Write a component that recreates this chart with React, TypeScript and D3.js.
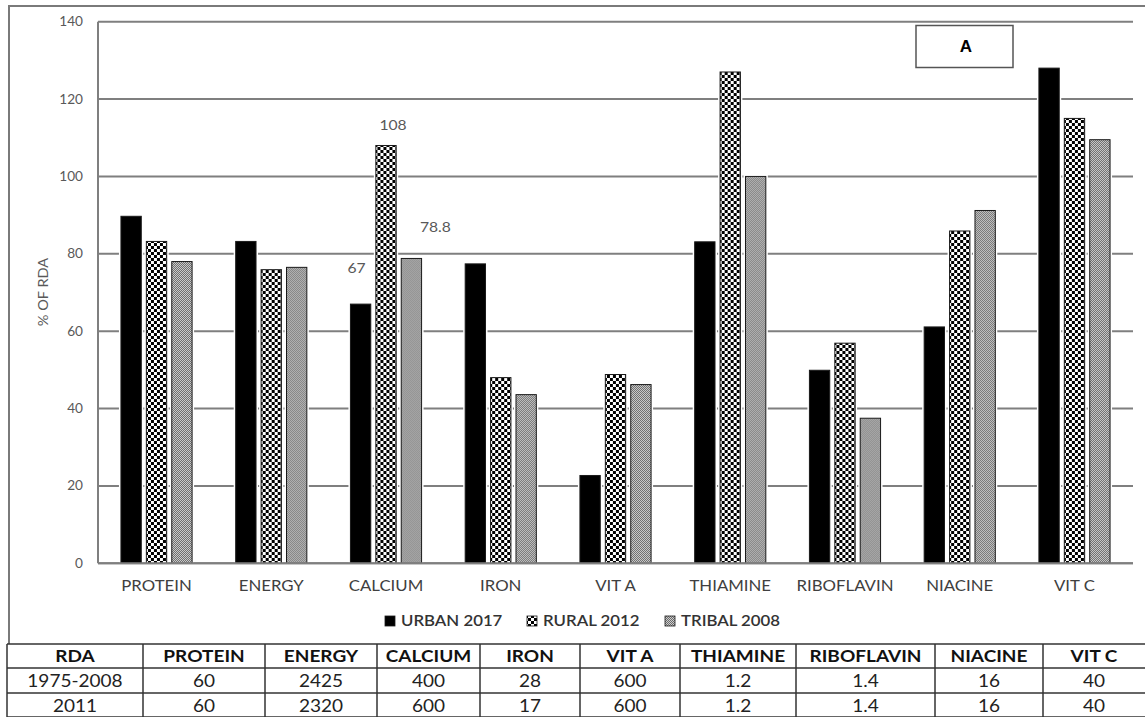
import React from 'react';
import * as d3 from 'd3';

// ---------- data ----------
const categories = ['PROTEIN', 'ENERGY', 'CALCIUM', 'IRON', 'VIT A', 'THIAMINE', 'RIBOFLAVIN', 'NIACINE', 'VIT C'];
const seriesNames = ['URBAN 2017', 'RURAL 2012', 'TRIBAL 2008'];
const urban2017 = [89.7, 83.2, 67, 77.4, 22.7, 83.1, 49.9, 61.1, 128];
const rural2012 = [83.2, 75.9, 108, 48, 48.8, 127, 56.9, 85.9, 115];
const tribal2008 = [78, 76.5, 78.8, 43.6, 46.2, 100, 37.5, 91.2, 109.5];
const yTicks = [0, 20, 40, 60, 80, 100, 120, 140];
const yTitle = '% OF RDA';
const panelLabel = 'A';
const labelCategory = 'CALCIUM';
const labelTexts = ['67', '108', '78.8'];
const tableHeader = ['RDA', ...categories];
const rdaRowLabels = ['1975-2008', '2011'];
const rda1975to2008 = ['60', '2425', '400', '28', '600', '1.2', '1.4', '16', '40'];
const rda2011 = ['60', '2320', '600', '17', '600', '1.2', '1.4', '16', '40'];

// ---------- layout ----------
const W = 1145;
const H = 717;
const SX = 1.12; // horizontal text stretch of the reference
const FONT = 'Lato, "Open Sans", sans-serif';
const plot = { left: 98, right: 1133, top: 21.7, bottom: 563.3 };
const labelOffsets = [
  { dx: -4, dy: -31 },
  { dx: 7, dy: -15.5 },
  { dx: 24, dy: -26 },
];
const legendX = [385, 527, 665];
const legendY = 616;
const tableCols = [7, 143, 265, 377, 480, 580, 680, 796, 935, 1043, 1145];
const tableRows = [644, 668, 693, 717];

const seriesValues = [urban2017, rural2012, tribal2008];
const seriesFills = ['#000', 'url(#checker)', 'url(#fineGrey)'];

function T(props: {
  x: number; y: number; anchor?: string; size: number; weight?: string | number;
  fill?: string; family?: string; rotate?: number; sx?: number; children: React.ReactNode;
}) {
  const { x, y, anchor = 'middle', size, weight = 'normal', fill = '#000', family = FONT, rotate = 0, sx = SX, children } = props;
  return (
    <text
      transform={`translate(${x},${y}) rotate(${rotate}) scale(${sx},1)`}
      textAnchor={anchor}
      fontSize={size}
      fontWeight={weight}
      fill={fill}
      fontFamily={family}
    >
      {children}
    </text>
  );
}

export default function App() {
  const x0 = d3.scaleBand<string>().domain(categories).range([plot.left, plot.right]).paddingInner(0.38).paddingOuter(0.2);
  const x1 = d3.scaleBand<string>().domain(seriesNames).range([0, x0.bandwidth()]).paddingInner(0.2);
  const y = d3.scaleLinear().domain([0, 140]).range([plot.bottom, plot.top]);

  const labelIdx = categories.indexOf(labelCategory);

  return (
    <svg width={W} height={H} style={{ position: 'absolute', left: 0, top: 0, display: 'block', background: '#fff' }}>
      <defs>
        <pattern id="checker" width={6} height={6} patternUnits="userSpaceOnUse">
          <rect width={6} height={6} fill="#fff" />
          <rect width={3} height={3} fill="#000" />
          <rect x={3} y={3} width={3} height={3} fill="#000" />
        </pattern>
        <pattern id="fineGrey" width={2} height={2} patternUnits="userSpaceOnUse">
          <rect width={2} height={2} fill="#cfcfcf" />
          <rect width={1} height={1} fill="#6a6a6a" />
          <rect x={1} y={1} width={1} height={1} fill="#6a6a6a" />
        </pattern>
      </defs>

      {/* outer chart frame */}
      <path d={`M9,${tableRows[0]} V6 H${W + 2}`} fill="none" stroke="#7a7a7a" strokeWidth={2} />

      {/* gridlines */}
      {yTicks.map((t) => (
        <line key={t} x1={plot.left} x2={plot.right} y1={y(t)} y2={y(t)} stroke="#7f7f7f" strokeWidth={2} />
      ))}
      <line x1={plot.left} x2={plot.left} y1={y(140)} y2={y(0)} stroke="#7f7f7f" strokeWidth={2} />

      {/* y tick labels */}
      {yTicks.map((t) => (
        <T key={t} x={83} y={y(t) + 4.5} anchor="end" size={13} fill="#595959" sx={1.05}>{t}</T>
      ))}
      <T x={48} y={292} size={13} fill="#595959" rotate={-90}>{yTitle}</T>

      {/* bars */}
      {categories.map((c, ci) => (
        <g key={c} transform={`translate(${x0(c)},0)`}>
          {seriesNames.map((s, si) => {
            const v = seriesValues[si][ci];
            const bx = x1(s) as number;
            const bw = x1.bandwidth();
            return (
              <g key={s}>
                <rect x={bx - 2} y={y(v) - 2} width={bw + 4} height={y(0) - y(v) + 1} fill="#fff" />
                <rect x={bx} y={y(v)} width={bw} height={y(0) - y(v)} fill={seriesFills[si]} stroke="#1a1a1a" strokeWidth={1} />
              </g>
            );
          })}
        </g>
      ))}
      <line x1={plot.left} x2={plot.right} y1={y(0)} y2={y(0)} stroke="#7f7f7f" strokeWidth={2} />

      {/* category labels */}
      {categories.map((c) => (
        <T key={c} x={(x0(c) as number) + x0.bandwidth() / 2} y={591} size={15} fill="#404040">{c}</T>
      ))}

      {/* data labels */}
      {seriesNames.map((s, si) => {
        const v = seriesValues[si][labelIdx];
        const cx = (x0(labelCategory) as number) + (x1(s) as number) + x1.bandwidth() / 2;
        return (
          <T key={s} x={cx + labelOffsets[si].dx} y={y(v) + labelOffsets[si].dy} size={14} fill="#595959">{labelTexts[si]}</T>
        );
      })}

      {/* panel label box */}
      <rect x={916} y={25.5} width={97} height={42} fill="#fff" stroke="#555" strokeWidth={1.5} />
      <T x={966} y={52} size={17} weight="bold" family='"Liberation Sans", Arial, sans-serif' sx={1}>{panelLabel}</T>

      {/* legend */}
      {seriesNames.map((s, si) => (
        <g key={s}>
          <rect x={legendX[si]} y={legendY} width={10} height={10} fill={seriesFills[si]} stroke="#1a1a1a" strokeWidth={0.8} />
          <T x={legendX[si] + 16} y={626} anchor="start" size={15} weight={600} fill="#333">{s}</T>
        </g>
      ))}

      {/* table */}
      <rect x={tableCols[0]} y={tableRows[0]} width={W - tableCols[0] + 2} height={tableRows[3] - tableRows[0] + 2} fill="#fff" />
      {tableRows.map((r) => (
        <line key={r} x1={tableCols[0]} x2={W} y1={r} y2={r} stroke="#333" strokeWidth={1.5} />
      ))}
      {tableCols.slice(0, -1).map((c) => (
        <line key={c} x1={c} x2={c} y1={tableRows[0]} y2={H} stroke="#333" strokeWidth={1.5} />
      ))}
      {tableHeader.map((h, i) => (
        <T key={h} x={(tableCols[i] + tableCols[i + 1]) / 2} y={tableRows[0] + 17.5} size={17} weight="bold" fill="#111">{h}</T>
      ))}
      {[rda1975to2008, rda2011].map((row, ri) => (
        <g key={ri}>
          <T x={(tableCols[0] + tableCols[1]) / 2} y={tableRows[ri + 1] + 18.5} size={17} fill="#222">{rdaRowLabels[ri]}</T>
          {row.map((v, i) => (
            <T key={i} x={(tableCols[i + 1] + tableCols[i + 2]) / 2} y={tableRows[ri + 1] + 18.5} size={17} fill="#222">{v}</T>
          ))}
        </g>
      ))}
    </svg>
  );
}
